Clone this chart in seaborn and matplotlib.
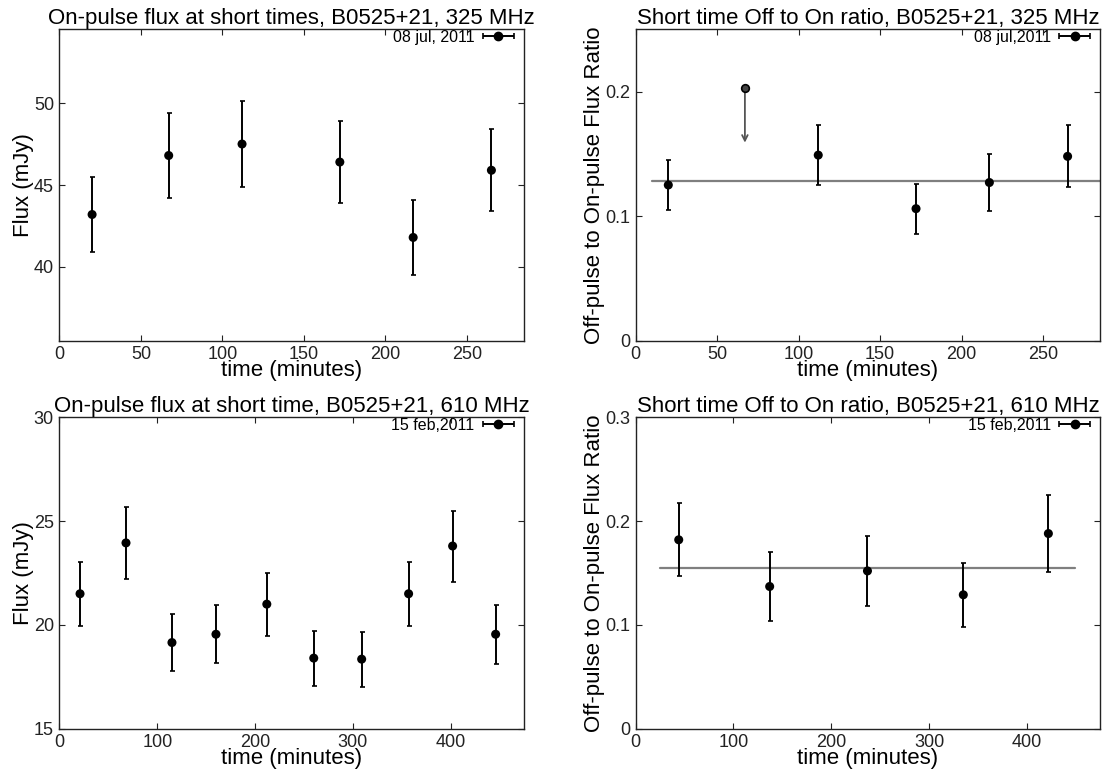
import numpy as np
import pandas as pd
import matplotlib
matplotlib.use("Agg")
import matplotlib.pyplot as plt
from matplotlib.legend_handler import HandlerErrorbar
import seaborn as sns

# ---------------- data ----------------
t325 = [20, 67, 112, 172, 217, 265]
flux325 = [43.2, 46.8, 47.5, 46.4, 41.8, 45.9]
flux325_err = [2.3, 2.6, 2.6, 2.5, 2.3, 2.5]

t325r = [20, 112, 172, 217, 265]
ratio325 = [0.125, 0.149, 0.106, 0.127, 0.148]
ratio325_err = [0.020, 0.024, 0.020, 0.023, 0.025]
ul325_t = [67]
ul325_val = [0.203]
ul325_end = [0.159]
mean325 = 0.128
mean325_span = [10, 285]

t610 = [21, 68, 115, 160, 212, 260, 309, 357, 402, 446]
flux610 = [21.5, 23.95, 19.15, 19.55, 21.0, 18.4, 18.35, 21.5, 23.8, 19.55]
flux610_err = [1.55, 1.72, 1.38, 1.40, 1.52, 1.33, 1.33, 1.55, 1.71, 1.41]

t610r = [44, 137, 237, 335, 422]
ratio610 = [0.182, 0.137, 0.152, 0.129, 0.188]
ratio610_err = [0.035, 0.033, 0.034, 0.031, 0.037]
mean610 = 0.155
mean610_span = [25, 449]

titles = ["On-pulse flux at short times, B0525+21, 325 MHz",
          "Short time Off to On ratio, B0525+21, 325 MHz",
          "On-pulse flux at short time, B0525+21, 610 MHz",
          "Short time Off to On ratio, B0525+21, 610 MHz"]
legend_labels = ["08 jul, 2011", "08 jul,2011", "15 feb,2011", "15 feb,2011"]
xlabel = "time (minutes)"
ylab_flux = "Flux (mJy)"
ylab_ratio = "Off-pulse to On-pulse Flux Ratio"

# ---------------- style ----------------
sns.set_style("ticks")
plt.rcParams["font.family"] = ["Liberation Sans", "DejaVu Sans"]
plt.rcParams.update({
    "xtick.direction": "in", "ytick.direction": "in",
    "xtick.top": True, "ytick.right": True,
    "xtick.major.size": 4, "ytick.major.size": 4,
    "xtick.major.width": 0.8, "ytick.major.width": 0.8,
    "xtick.labelsize": 13, "ytick.labelsize": 13,
    "axes.linewidth": 1.0, "axes.edgecolor": "#222222",
    "xtick.color": "#222222", "ytick.color": "#222222",
    "text.color": "black", "axes.labelcolor": "black",
})

W, H = 1116, 773
fig = plt.figure(figsize=(W / 100, H / 100), dpi=100)
fig.patch.set_facecolor("white")

aw, ah = 464.5 / W, 311.4 / H
lefts = [59.5 / W, 635.7 / W]
bottoms = [1 - 340.7 / H, 1 - 728.7 / H]
axes = [fig.add_axes([lefts[0], bottoms[0], aw, ah]),
        fig.add_axes([lefts[1], bottoms[0], aw, ah]),
        fig.add_axes([lefts[0], bottoms[1], aw, ah]),
        fig.add_axes([lefts[1], bottoms[1], aw, ah])]

MS = 6.5
ekw = dict(fmt="none", ecolor="black", elinewidth=1.4, capsize=1.8, capthick=1.2, zorder=2)


def points(ax, x, y, err):
    df = pd.DataFrame({"x": x, "y": y})
    ax.errorbar(x, y, yerr=err, **ekw)
    sns.scatterplot(data=df, x="x", y="y", ax=ax, color="black", s=MS ** 2,
                    edgecolor="none", zorder=3, legend=False)


def hline(ax, span, val):
    df = pd.DataFrame({"x": span, "y": [val, val]})
    sns.lineplot(data=df, x="x", y="y", ax=ax, color="#7f7f7f", lw=1.6, zorder=1)


def finish(ax, title, label, ylabel, xlim, ylim, xticks, yticks, yticklabels):
    ax.set_xlim(*xlim)
    ax.set_ylim(*ylim)
    ax.set_xticks(xticks)
    ax.set_yticks(yticks)
    ax.set_yticklabels(yticklabels)
    ax.set_title(title, fontsize=16, pad=3)
    ax.set_xlabel(xlabel, fontsize=16, labelpad=-2)
    ax.set_ylabel(ylabel, fontsize=16, labelpad=0)
    ax.tick_params(axis="both", which="major", pad=4)
    proxy = ax.errorbar([np.nan], [np.nan], xerr=[1], fmt="o", color="black",
                        ms=MS - 0.5, elinewidth=1.4, capsize=2, capthick=1.2)
    ax.legend([proxy], [label], loc="upper right", frameon=False,
              markerfirst=False, fontsize=11.5, handlelength=2.0,
              handletextpad=0.5, borderpad=0.15, borderaxespad=0.45,
              bbox_to_anchor=(1.0, 1.03),
              handler_map={type(proxy): HandlerErrorbar(xerr_size=0.95)})
    for s in ax.spines.values():
        s.set_visible(True)


# Panel 1
ax = axes[0]
points(ax, t325, flux325, flux325_err)
finish(ax, titles[0], legend_labels[0], ylab_flux, (0, 285), (35.5, 54.5),
       [0, 50, 100, 150, 200, 250], [40, 45, 50], ["40", "45", "50"])

# Panel 2
ax = axes[1]
hline(ax, mean325_span, mean325)
points(ax, t325r, ratio325, ratio325_err)
for xx, yy, ye in zip(ul325_t, ul325_val, ul325_end):
    ax.annotate("", xy=(xx, ye), xytext=(xx, yy),
                arrowprops=dict(arrowstyle="->", color="#555555", lw=1.3,
                                shrinkA=0, shrinkB=0, mutation_scale=10))
sns.scatterplot(x=ul325_t, y=ul325_val, ax=ax, color="#444444", s=(MS - 1) ** 2,
                edgecolor="black", linewidth=1.2, zorder=4, legend=False)
finish(ax, titles[1], legend_labels[1], ylab_ratio, (0, 285), (0, 0.25),
       [0, 50, 100, 150, 200, 250], [0, 0.1, 0.2], ["0", "0.1", "0.2"])

# Panel 3
ax = axes[2]
points(ax, t610, flux610, flux610_err)
finish(ax, titles[2], legend_labels[2], ylab_flux, (0, 475), (15, 30),
       [0, 100, 200, 300, 400], [15, 20, 25, 30], ["15", "20", "25", "30"])

# Panel 4
ax = axes[3]
hline(ax, mean610_span, mean610)
points(ax, t610r, ratio610, ratio610_err)
finish(ax, titles[3], legend_labels[3], ylab_ratio, (0, 475), (0, 0.3),
       [0, 100, 200, 300, 400], [0, 0.1, 0.2, 0.3], ["0", "0.1", "0.2", "0.3"])

fig.savefig("out.png", dpi=100, facecolor="white")
